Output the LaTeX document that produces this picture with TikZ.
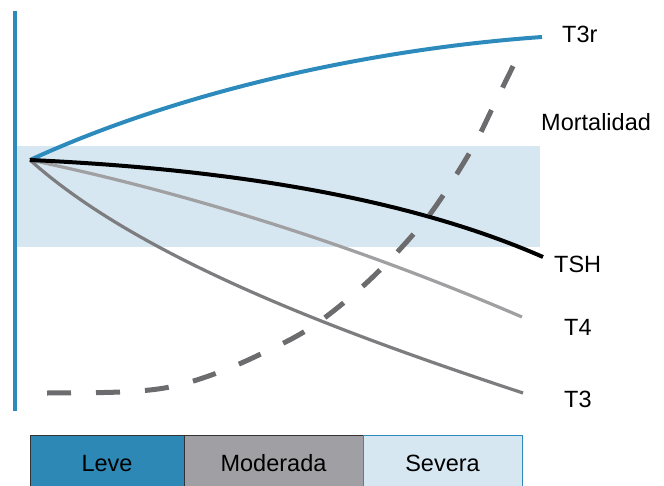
\documentclass[tikz,border=0pt]{standalone}
\usepackage{fontspec}
\setmainfont{Liberation Sans}
\definecolor{axisblue}{RGB}{44,139,188}
\definecolor{leveblue}{RGB}{46,136,181}
\definecolor{paleblue}{RGB}{214,231,241}
\definecolor{modgray}{RGB}{160,160,164}
\definecolor{tfourgray}{RGB}{160,160,162}
\definecolor{tthreegray}{RGB}{125,125,128}
\definecolor{dashgray}{RGB}{108,108,110}
\tikzset{
  lbl/.style={anchor=base west,inner sep=0pt,font=\fontsize{23.5}{26}\selectfont},
  cell/.style={draw=#1,line width=1pt},
  celltext/.style={inner sep=0pt,font=\fontsize{23.5}{26}\selectfont}
}
\begin{document}
\begin{tikzpicture}[x=1pt,y=-1pt]
\useasboundingbox (0,0) rectangle (664,486);
\begin{scope}
\clip (0,0) rectangle (664,486);
% pale band
\fill[paleblue] (17,146) rectangle (540,247);
% axis
\draw[axisblue,line width=4pt] (15,11) -- (15,411);
% curves
\coordinate (o) at (30,160);
\coordinate (endT3r) at (542,37);
\coordinate (endTSH) at (543,257);
\coordinate (endT4) at (522,317);
\coordinate (endT3) at (523,393);
\draw[axisblue,line width=4pt] (o) .. controls (180,91) and (372,49) .. (endT3r);
\draw[tfourgray,line width=3.2pt] (o) .. controls (150,185) and (322,231) .. (endT4);
\draw[tthreegray,line width=3.2pt] (o) .. controls (140,259) and (343,333.6) .. (endT3);
\draw[dashgray,line width=5pt,dash pattern=on 24pt off 25pt] plot[smooth,tension=0.6] coordinates {(47,393) (120,392) (170,387) (217,373) (263,353) (307,330) (347,300) (383,267) (417,230) (440,200) (473,147) (493,107) (519,54)};
\draw[black,line width=4pt] (o) .. controls (250,170) and (420,203) .. (endTSH);
% severity bar
\draw[cell=black!80,fill=leveblue] (30,435) rectangle (184,495);
\draw[cell=black!80,fill=modgray] (184,435) rectangle (363,495);
\draw[cell=axisblue,fill=paleblue] (363,435) rectangle (522,495);
\end{scope}
\node[celltext] (leve) at (107,463.5) {Leve};
\node[celltext] (mod) at (273.5,463.5) {Moderada};
\node[celltext] (sev) at (442.5,463.5) {Severa};
% labels
\node[lbl] (t3r) at (562,43) {T3r};
\node[lbl] (mort) at (541,131) {Mortalidad};
\node[lbl] (tsh) at (554,273) {TSH};
\node[lbl] (t4) at (564,336) {T4};
\node[lbl] (t3) at (564,407) {T3};
\end{tikzpicture}
\end{document}
